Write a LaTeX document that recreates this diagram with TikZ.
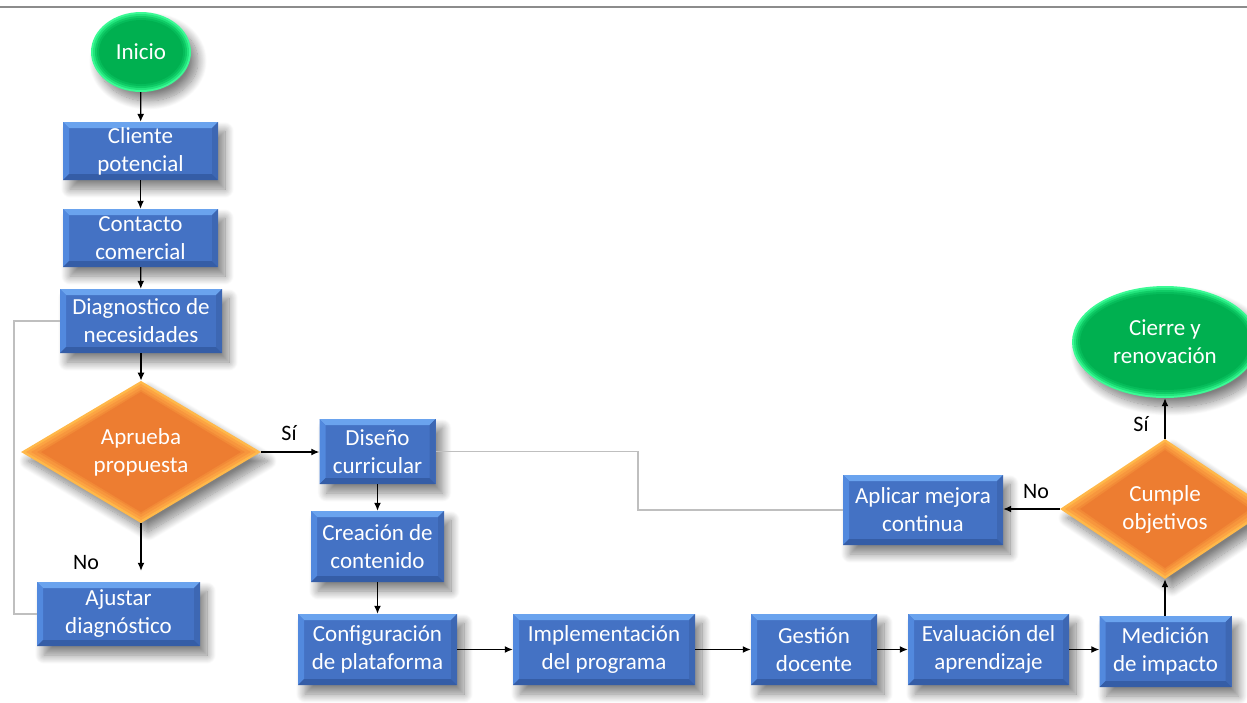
\documentclass[tikz,border=0pt]{standalone}
\usepackage{fontspec}
\setmainfont{Carlito}
\usetikzlibrary{shapes.geometric,arrows.meta,shadows.blur,calc}

\definecolor{bmain}{HTML}{4472C4}
\definecolor{btop}{HTML}{6AA3EE}
\definecolor{bleft}{HTML}{5289DE}
\definecolor{bright}{HTML}{3D67B3}
\definecolor{bbot}{HTML}{355DA6}
\definecolor{omain}{HTML}{ED7D31}
\definecolor{oa}{HTML}{FFB84A}
\definecolor{ob}{HTML}{FCA443}
\definecolor{oc}{HTML}{F7963D}
\definecolor{od}{HTML}{F28A37}
\definecolor{gcore}{HTML}{00B050}
\definecolor{ga}{HTML}{3CFA95}
\definecolor{gb}{HTML}{22E47C}
\definecolor{gc}{HTML}{10CC66}
\definecolor{gd}{HTML}{06BC5A}
\definecolor{greyline}{HTML}{BFBFBF}
\definecolor{topline}{HTML}{8C8C8C}

% helpers for the soft rims
\newcommand{\rimdiamond}[3]{% colour, vertical inset, horizontal inset
  \fill[#1] ([yshift=-#2]path picture bounding box.north)
    -- ([xshift=-#3]path picture bounding box.east)
    -- ([yshift=#2]path picture bounding box.south)
    -- ([xshift=#3]path picture bounding box.west) -- cycle;}
\newcommand{\rimellipse}[2]{% colour, inset
  \fill[#1] let \p1=($(path picture bounding box.north east)-(path picture bounding box.center)$) in
    (path picture bounding box.center) ellipse [x radius=\x1-#2, y radius=\y1-#2];}

\tikzset{
  shadowed/.style={blur shadow={shadow xshift=7pt, shadow yshift=-9pt,
      shadow blur radius=9pt, shadow blur steps=14, shadow opacity=50}},
  boxtext/.style={text=white, font=\fontsize{23}{28}\selectfont, align=center, inner sep=0pt},
  procbox/.style={rectangle, boxtext, shadowed, fill=bmain,
    path picture={
      \path (path picture bounding box.north west) coordinate (q1)
            (path picture bounding box.north east) coordinate (q2)
            (path picture bounding box.south east) coordinate (q3)
            (path picture bounding box.south west) coordinate (q4);
      \path ([shift={(6pt,-6pt)}]q1) coordinate (r1)
            ([shift={(-6pt,-6pt)}]q2) coordinate (r2)
            ([shift={(-6pt,6pt)}]q3) coordinate (r3)
            ([shift={(6pt,6pt)}]q4) coordinate (r4);
      \fill[btop] (q1) -- (q2) -- (r2) -- (r1) -- cycle;
      \fill[bleft] (q1) -- (r1) -- (r4) -- (q4) -- cycle;
      \fill[bright] (q2) -- (q3) -- (r3) -- (r2) -- cycle;
      \fill[bbot] (q4) -- (r4) -- (r3) -- (q3) -- cycle;
    }},
  decision/.style={diamond, boxtext, shadowed, fill=oa,
    path picture={
      \rimdiamond{ob}{3pt}{5pt}
      \rimdiamond{oc}{6pt}{10pt}
      \rimdiamond{od}{9pt}{16pt}
      \rimdiamond{omain}{11pt}{20pt}
    }},
  terminal/.style={ellipse, boxtext, shadowed, fill=ga,
    path picture={
      \rimellipse{gb}{2pt}
      \rimellipse{gc}{4pt}
      \rimellipse{gd}{6pt}
      \rimellipse{gcore}{8pt}
    }},
  conn/.style={draw=black, line width=1.3pt, -{Latex[length=8pt,width=7pt]}},
  loopline/.style={draw=greyline, line width=1.6pt},
  lbl/.style={font=\fontsize{22}{26}\selectfont, text=black, inner sep=0pt}
}

\begin{document}
\begin{tikzpicture}[x=1pt,y=-1pt]
  \useasboundingbox (0,0) rectangle (1247,702);

  % rule along the top
  \coordinate (rl) at (0,7);
  \coordinate (rr) at (1247,7);
  \draw[topline, line width=1.2pt] (rl) -- (rr);

  % left column
  \node[terminal, minimum width=100pt, minimum height=80pt] (ini) at (141,52) {Inicio};
  \node[procbox, minimum width=155pt, minimum height=58pt] (cli) at (140.5,151) {Cliente\\potencial};
  \node[procbox, minimum width=155pt, minimum height=58pt] (con) at (140.5,238) {Contacto\\comercial};
  \node[procbox, minimum width=162pt, minimum height=64pt] (dia) at (141,321) {Diagnostico de\\necesidades};
  \node[decision, minimum width=240pt, minimum height=136pt] (apr) at (141,452) {Aprueba\\propuesta};
  \node[procbox, minimum width=163pt, minimum height=64pt] (aju) at (118.5,614) {Ajustar\\diagnóstico};

  % middle column and bottom row
  \node[procbox, minimum width=116pt, minimum height=65pt] (dis) at (377.5,451.5) {Diseño\\curricular};
  \node[procbox, minimum width=133pt, minimum height=71pt] (cre) at (377.5,546.5) {Creación de\\contenido};
  \node[procbox, minimum width=159pt, minimum height=71pt] (cfg) at (377.5,649.5) {Configuración\\de plataforma};
  \node[procbox, minimum width=182pt, minimum height=71pt] (imp) at (604,649.5) {Implementación\\del programa};
  \node[procbox, minimum width=126pt, minimum height=71pt] (ges) at (814,649.5) {Gestión\\docente};
  \node[procbox, minimum width=161pt, minimum height=71pt] (eva) at (988.5,649.5) {Evaluación del\\aprendizaje};
  \node[procbox, minimum width=132pt, minimum height=71pt] (med) at (1165.5,651.5) {Medición\\de impacto};

  % right side
  \node[decision, minimum width=210pt, minimum height=140pt] (cum) at (1165,509) {Cumple\\objetivos};
  \node[procbox, minimum width=160pt, minimum height=70pt] (apl) at (923,510) {Aplicar mejora\\continua};
  \node[terminal, minimum width=186pt, minimum height=112pt] (cie) at (1165,342) {Cierre y\\renovación};

  % main flow
  \draw[conn] (ini) -- (cli);
  \draw[conn] (cli) -- (con);
  \draw[conn] (con) -- (dia);
  \draw[conn] (dia) -- (apr);
  \draw[conn, shorten >=11pt] (apr.south) -- (apr.south |- aju.north);
  \draw[conn] (apr.east) -- (apr.east -| dis.west);
  \draw[conn] (dis) -- (cre);
  \draw[conn] (cre) -- (cfg);
  \draw[conn] (cfg) -- (imp);
  \draw[conn] (imp) -- (ges);
  \draw[conn] (ges) -- (eva);
  \draw[conn] (eva.east) -- (eva.east -| med.west);
  \draw[conn] (med.north -| cum.south) -- (cum.south);
  \draw[conn] (cum.north) -- (cie.south);
  \draw[conn] (cum.west) -- (cum.west -| apl.east);

  % feedback loops
  \draw[loopline] (aju.west) -| ([xshift=-46pt]dia.west) -- (dia.west);
  \draw[loopline] (apl.west) -- ++(-205,0) |- (dis.east);

  % branch labels
  \node[lbl] (no1) at (86,563) {No};
  \node[lbl] (si1) at (289,433) {Sí};
  \node[lbl] (si2) at (1141,424) {Sí};
  \node[lbl] (no2) at (1036,492) {No};
\end{tikzpicture}
\end{document}
